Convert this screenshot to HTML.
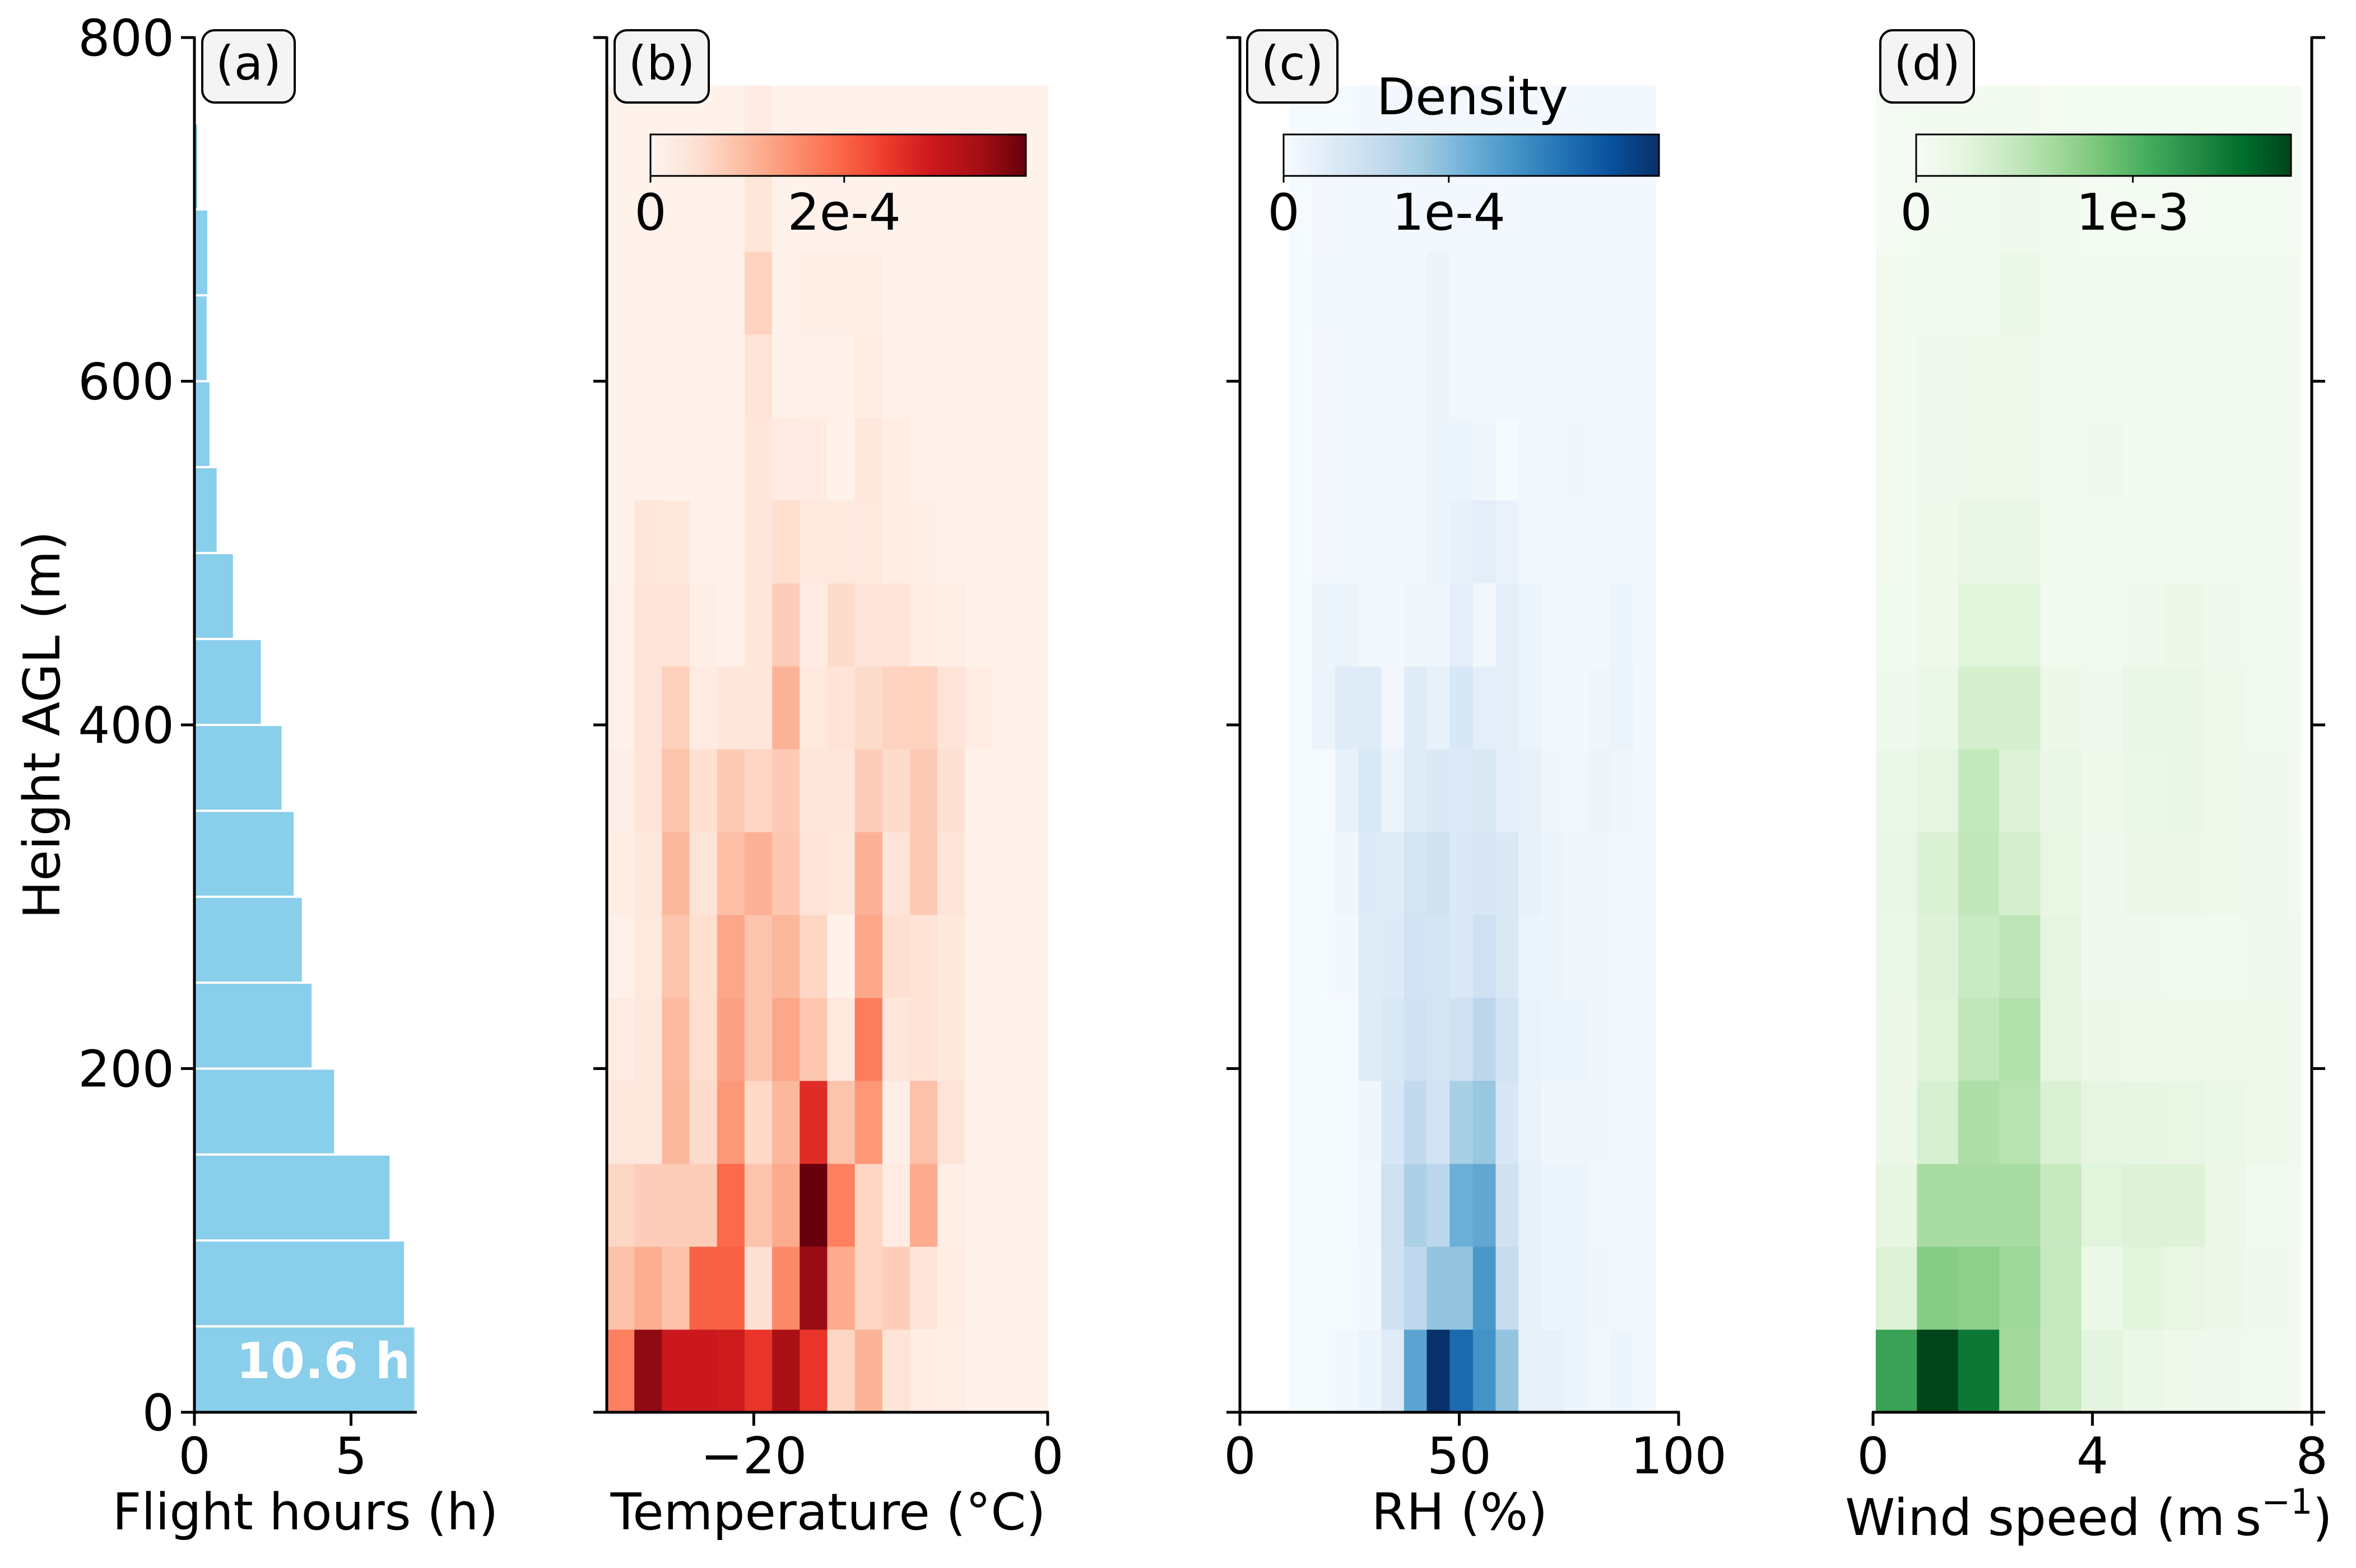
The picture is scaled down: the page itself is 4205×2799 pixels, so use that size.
<!DOCTYPE html>
<html><head><meta charset="utf-8">
<style>
html,body{margin:0;padding:0;background:#fff;}
svg{display:block;font-family:"DejaVu Sans","Liberation Sans",sans-serif;}
</style></head>
<body>
<svg id="fig" width="4205" height="2799" viewBox="0 0 4205 2799" xmlns="http://www.w3.org/2000/svg">
<rect width="4205" height="2799" fill="#fff"/>
<g id="layer"></g>
</svg>
<script>
// ---------- DATA ----------
const heightTicks = [0, 200, 400, 600, 800];
const flightBinTop = [50,100,150,200,250,300,350,400,450,500,550,600,650,700,750];
const flightHours = [7.02,6.69,6.23,4.46,3.74,3.43,3.17,2.78,2.12,1.23,0.71,0.48,0.39,0.41,0.09];
const flightTicks = [0, 5];
const totalLabel = "10.6 h";

const rowEdgeTop = 772; const nRows = 16;

const tempEdges = [-30,-28.125,-26.25,-24.375,-22.5,-20.625,-18.75,-16.875,-15,-13.125,-11.25,-9.375,-7.5,-5.625,-3.75,-1.875,0];
const tempTicks = [-20, 0];
const tempVals = [
[0.43,0.92,0.75,0.75,0.74,0.65,0.86,0.65,0.16,0.27,0.11,0.05,0.04,0.02,0.02,0.02],
[0.23,0.29,0.23,0.52,0.52,0.12,0.40,0.90,0.30,0.16,0.19,0.10,0.05,0.02,0.02,0.02],
[0.16,0.19,0.19,0.19,0.50,0.22,0.30,1.00,0.43,0.16,0.06,0.30,0.04,0.02,0.02,0.02],
[0.08,0.08,0.26,0.14,0.36,0.15,0.26,0.68,0.22,0.36,0.04,0.23,0.10,0.02,0.02,0.02],
[0.06,0.08,0.25,0.13,0.33,0.22,0.31,0.21,0.07,0.44,0.09,0.11,0.08,0.02,0.02,0.02],
[0.03,0.07,0.22,0.13,0.31,0.22,0.26,0.16,0.02,0.31,0.13,0.11,0.08,0.02,0.02,0.02],
[0.05,0.08,0.26,0.10,0.24,0.28,0.21,0.10,0.08,0.28,0.10,0.20,0.10,0.02,0.02,0.02],
[0.04,0.10,0.22,0.12,0.20,0.16,0.20,0.09,0.09,0.19,0.14,0.20,0.12,0.02,0.02,0.02],
[0.03,0.10,0.18,0.06,0.09,0.09,0.27,0.07,0.11,0.14,0.17,0.17,0.10,0.05,0.02,0.02],
[0.03,0.10,0.10,0.04,0.03,0.09,0.19,0.06,0.14,0.10,0.10,0.05,0.04,0.02,0.02,0.02],
[0.02,0.09,0.08,0.03,0.03,0.09,0.13,0.07,0.07,0.07,0.05,0.04,0.03,0.02,0.02,0.02],
[0.02,0.02,0.02,0.02,0.02,0.09,0.06,0.06,0.02,0.08,0.05,0.02,0.02,0.02,0.02,0.02],
[0.02,0.02,0.02,0.02,0.02,0.10,0.02,0.03,0.03,0.05,0.03,0.02,0.02,0.02,0.02,0.02],
[0.02,0.02,0.02,0.02,0.02,0.17,0.02,0.04,0.04,0.04,0.02,0.02,0.02,0.02,0.02,0.02],
[0.02,0.02,0.02,0.02,0.02,0.09,0.02,0.02,0.02,0.02,0.02,0.02,0.02,0.02,0.02,0.02],
[0.02,0.02,0.02,0.02,0.02,0.06,0.02,0.02,0.02,0.02,0.02,0.02,0.02,0.02,0.02,0.02]];

const rhEdges = [11.3,16.5,21.7,27.0,32.2,37.4,42.6,47.8,53.1,58.3,63.5,68.7,73.9,79.2,84.4,89.6,94.8];
const rhTicks = [0, 50, 100];
const rhVals = [
[.01,.01,.03,.05,.12,.55,1.0,.78,.62,.40,.08,.08,.05,.03,.05,.02],
[.01,.01,.01,.02,.20,.27,.40,.40,.60,.24,.08,.05,.05,.04,.03,.02],
[.01,.01,.01,.03,.20,.33,.28,.50,.53,.20,.08,.05,.05,.03,.03,.02],
[.01,.01,.01,.04,.16,.26,.19,.34,.39,.16,.07,.04,.04,.04,.03,.02],
[.01,.01,.01,.12,.15,.20,.18,.20,.28,.19,.07,.06,.05,.04,.03,.02],
[.01,.01,.02,.12,.13,.19,.18,.14,.21,.15,.06,.05,.04,.04,.03,.02],
[.01,.01,.04,.13,.12,.18,.20,.14,.16,.14,.08,.05,.04,.04,.03,.02],
[.01,.01,.08,.15,.06,.12,.14,.13,.15,.09,.08,.04,.03,.05,.04,.02],
[.01,.06,.12,.12,.03,.12,.08,.16,.10,.10,.06,.03,.02,.04,.06,.02],
[.01,.05,.06,.02,.02,.04,.04,.10,.03,.10,.05,.02,.02,.02,.05,.02],
[.01,.02,.02,.02,.02,.02,.05,.08,.10,.07,.03,.03,.03,.03,.02,.02],
[.01,.02,.03,.02,.02,.03,.05,.05,.04,.01,.03,.03,.04,.03,.02,.02],
[.01,.02,.03,.02,.02,.03,.05,.03,.02,.03,.03,.03,.02,.02,.02,.02],
[.01,.03,.02,.02,.02,.02,.05,.02,.03,.03,.03,.03,.02,.02,.02,.02],
[.01,.02,.02,.02,.02,.02,.02,.02,.02,.02,.02,.02,.02,.02,.02,.02],
[.01,.01,.01,.02,.02,.02,.02,.02,.02,.02,.02,.02,.02,.02,.02,.02]];

const windEdges = [0.05,0.8,1.55,2.3,3.05,3.8,4.55,5.3,6.05,6.8,7.55,7.8];
const windTicks = [0, 4, 8];
const windVals = [
[.66,1.0,.83,.37,.25,.13,.08,.06,.05,.04,.03],
[.16,.45,.43,.38,.25,.08,.14,.10,.07,.05,.03],
[.11,.35,.35,.35,.25,.14,.16,.16,.07,.04,.04],
[.07,.18,.33,.30,.17,.12,.11,.10,.08,.06,.05],
[.07,.15,.27,.32,.12,.07,.06,.06,.06,.06,.05],
[.08,.16,.24,.28,.12,.05,.05,.04,.04,.05,.05],
[.09,.17,.27,.19,.10,.05,.07,.07,.06,.05,.04],
[.08,.12,.26,.16,.09,.06,.08,.09,.06,.05,.03],
[.05,.08,.19,.19,.07,.05,.09,.09,.06,.04,.04],
[.04,.06,.14,.14,.04,.04,.05,.07,.05,.04,.04],
[.03,.06,.09,.09,.03,.04,.03,.04,.04,.04,.03],
[.03,.05,.06,.06,.03,.05,.03,.03,.03,.03,.03],
[.03,.05,.06,.06,.04,.03,.03,.03,.03,.03,.03],
[.03,.04,.04,.08,.04,.03,.03,.03,.03,.03,.03],
[.02,.03,.03,.05,.03,.02,.02,.02,.02,.02,.02],
[.02,.03,.03,.03,.02,.02,.02,.02,.02,.02,.02]];

const cbTempTicks = ["0","2e-4"]; const cbTempTickFrac = [0, 0.516];
const cbRhTicks = ["0","1e-4"]; const cbRhTickFrac = [0, 0.44];
const cbWindTicks = ["0","1e-3"]; const cbWindTickFrac = [0, 0.578];

// ---------- helpers ----------
const NS = "http://www.w3.org/2000/svg";
const root = document.getElementById('layer');
function mk(tag, attrs, parent, text){
  const e = document.createElementNS(NS, tag);
  for (const k in attrs) e.setAttribute(k, attrs[k]);
  if (text !== undefined) e.textContent = text;
  (parent || root).appendChild(e);
  return e;
}
const REDS = ["#fff5f0","#fee0d2","#fcbba1","#fc9272","#fb6a4a","#ef3b2c","#cb181d","#a50f15","#67000d"];
const BLUES = ["#f7fbff","#deebf7","#c6dbef","#9ecae1","#6baed6","#4292c6","#2171b5","#08519c","#08306b"];
const GREENS = ["#f7fcf5","#e5f5e0","#c7e9c0","#a1d99b","#74c476","#41ab5d","#238b45","#006d2c","#00441b"];
function hx(c){return [parseInt(c.slice(1,3),16),parseInt(c.slice(3,5),16),parseInt(c.slice(5,7),16)];}
function cmap(stops, t){
  t = Math.max(0, Math.min(1, t));
  const p = t*(stops.length-1); const i = Math.min(Math.floor(p), stops.length-2); const f = p-i;
  const a = hx(stops[i]), b = hx(stops[i+1]);
  return "rgb("+a.map((v,k)=>Math.round(v+(b[k]-v)*f)).join(",")+")";
}
const Y0 = 2521, PXM = 3.0675;
const yS = h => Y0 - h*PXM;
const FS = 90;

function yTicks(g, x, dir, labels){
  heightTicks.forEach(v=>{
    const t = mk('line',{x1:x, x2:x+dir*24, y1:yS(v), y2:yS(v), stroke:'#000','stroke-width':5}, g);
    
    
    if (labels){
      const l = mk('text',{x:x-36, y:yS(v)+32, 'font-size':FS, 'text-anchor':'end'}, g, String(v));
      
      
    }
  });
}
function xTicks(g, ticks, xs, fmt){
  ticks.forEach(v=>{
    const t = mk('line',{x1:xs(v), x2:xs(v), y1:Y0, y2:Y0+24, stroke:'#000','stroke-width':5}, g);
    
    
    const l = mk('text',{x:xs(v), y:Y0+109, 'font-size':FS, 'text-anchor':'middle'}, g, fmt? fmt(v): String(v));
    
    
  });
}
function panelLabel(g, x, w, txt){
  const b = mk('rect',{x:x, y:54, width:w, height:129, rx:22, fill:'#f4f4f4', stroke:'#000','stroke-width':4}, g);
  
  
  const t = mk('text',{x:x+w/2, y:142, 'font-size':84, 'text-anchor':'middle'}, g, txt);
  
  
}
function heat(g, edges, vals, xs, stops){
  const rh = rowEdgeTop/nRows;
  vals.forEach((row, r)=>{
    row.forEach((v, c)=>{
      const x1 = xs(edges[c]), x2 = xs(edges[c+1]);
      const cell = mk('rect',{x:x1, y:yS((r+1)*rh), width:x2-x1+0.6, height:rh*PXM+0.6, fill:cmap(stops, v)}, g);
      
      
    });
  });
}
function colorbar(g, x1, x2, stops, labels, fracs){
  const id = 'grad'+x1;
  const defs = mk('defs',{}, g);
  const lg = mk('linearGradient',{id:id, x1:0, x2:1, y1:0, y2:0}, defs);
  stops.forEach((c,i)=>mk('stop',{offset:i/(stops.length-1), 'stop-color':c}, lg));
  const r = mk('rect',{x:x1, y:240, width:x2-x1, height:74, fill:'url(#'+id+')', stroke:'#000','stroke-width':3}, g);
  
  
  labels.forEach((s,i)=>{
    const tx = x1 + fracs[i]*(x2-x1);
    const t = mk('line',{x1:tx, x2:tx, y1:314, y2:326, stroke:'#000','stroke-width':3}, g);
    
    
    const l = mk('text',{x:tx, y:410, 'font-size':FS, 'text-anchor':'middle'}, g, s);
    
    
  });
}

// ---------- Panel (a) ----------
const ga = mk('g',{});


const xa = v => 347 + v*55.9;
flightHours.forEach((v,i)=>{
  const top = flightBinTop[i];
  const b = mk('rect',{x:xa(0)+2, y:yS(top)+2, width:xa(v)-xa(0)-2, height:50*PXM-4, fill:'#89ceea'}, ga);
  
  
});
const tl = mk('text',{x:577, y:2460, 'font-size':88, 'font-weight':'bold', fill:'#fff', 'text-anchor':'middle'}, ga, totalLabel);


mk('line',{x1:347, x2:347, y1:65, y2:Y0+2, stroke:'#000','stroke-width':5}, ga);
mk('line',{x1:345, x2:744, y1:Y0, y2:Y0, stroke:'#000','stroke-width':5}, ga);
yTicks(ga, 347, -1, true);
xTicks(ga, flightTicks, xa);
const xla = mk('text',{x:545, y:2730, 'font-size':FS, 'text-anchor':'middle'}, ga, 'Flight hours (h)');


const yl = mk('text',{x:0, y:0, 'font-size':FS, 'text-anchor':'middle', transform:'translate(106,1294) rotate(-90)'}, ga, 'Height AGL (m)');


panelLabel(ga, 361, 165, '(a)');

// ---------- Panel (b) ----------
const gb = mk('g',{});


const xb = v => 1083 + (v+30)*26.23;
heat(gb, tempEdges, tempVals, xb, REDS);
mk('line',{x1:1083, x2:1083, y1:65, y2:Y0+2, stroke:'#000','stroke-width':5}, gb);
mk('line',{x1:1081, x2:1872, y1:Y0, y2:Y0, stroke:'#000','stroke-width':5}, gb);
yTicks(gb, 1083, -1, false);
xTicks(gb, tempTicks, xb, v => v<0 ? '\u2212'+Math.abs(v) : String(v));
const xlb = mk('text',{x:1478, y:2730, 'font-size':FS, 'text-anchor':'middle'}, gb, 'Temperature (\u00b0C)');


panelLabel(gb, 1097, 168, '(b)');
colorbar(gb, 1161, 1831, REDS, cbTempTicks, cbTempTickFrac);

// ---------- Panel (c) ----------
const gc = mk('g',{});


const xc = v => 2213 + v*7.83;
heat(gc, rhEdges, rhVals, xc, BLUES);
mk('line',{x1:2213, x2:2213, y1:65, y2:Y0+2, stroke:'#000','stroke-width':5}, gc);
mk('line',{x1:2211, x2:2998, y1:Y0, y2:Y0, stroke:'#000','stroke-width':5}, gc);
yTicks(gc, 2213, -1, false);
xTicks(gc, rhTicks, xc);
const xlc = mk('text',{x:2605, y:2730, 'font-size':FS, 'text-anchor':'middle'}, gc, 'RH (%)');


panelLabel(gc, 2226, 161, '(c)');
colorbar(gc, 2291, 2961, BLUES, cbRhTicks, cbRhTickFrac);
const dens = mk('text',{x:2628, y:204, 'font-size':FS, 'text-anchor':'middle'}, gc, 'Density');



// ---------- Panel (d) ----------
const gd = mk('g',{});


const xd = v => 3343 + v*97.9;
heat(gd, windEdges, windVals, xd, GREENS);
mk('line',{x1:4126, x2:4126, y1:65, y2:Y0+2, stroke:'#000','stroke-width':5}, gd);
mk('line',{x1:3341, x2:4128, y1:Y0, y2:Y0, stroke:'#000','stroke-width':5}, gd);
yTicks(gd, 4126, 1, false);
xTicks(gd, windTicks, xd);
const xld = mk('text',{x:3728, y:2740, 'font-size':FS, 'text-anchor':'middle'}, gd);


mk('tspan',{}, xld, 'Wind speed (m\u2009s');
mk('tspan',{'font-size':62, dy:-38}, xld, '\u22121');
mk('tspan',{dy:38}, xld, ')');
panelLabel(gd, 3356, 167, '(d)');
colorbar(gd, 3420, 4089, GREENS, cbWindTicks, cbWindTickFrac);
</script>
</body></html>
